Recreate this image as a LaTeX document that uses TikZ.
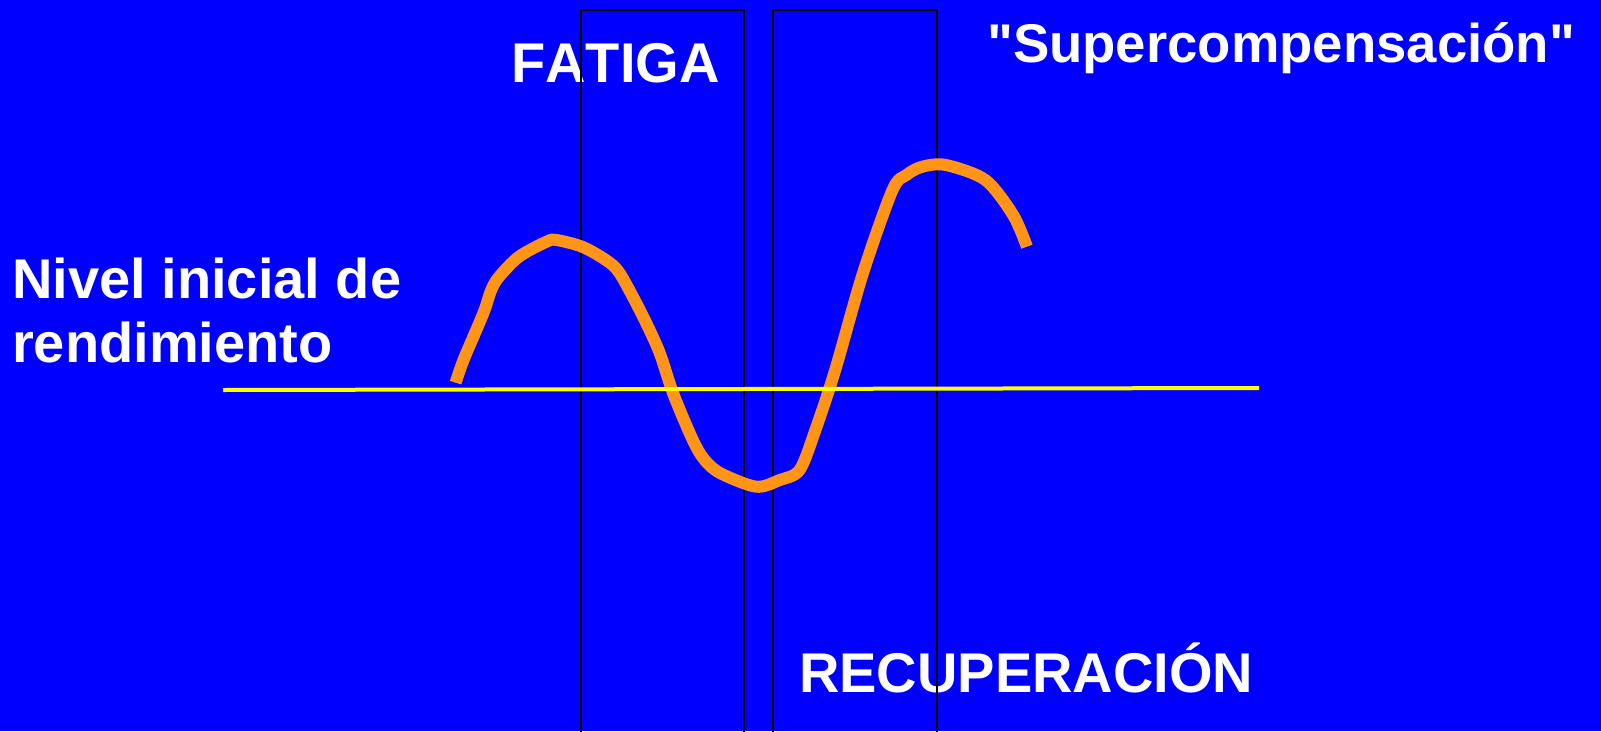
\documentclass[tikz,border=0pt]{standalone}
\usepackage{fontspec}
\setmainfont{Liberation Sans}[Ligatures=TeXOff, Kerning=Off]
\usetikzlibrary{positioning}
\definecolor{fondo}{RGB}{0,0,255}
\definecolor{naranja}{RGB}{255,148,22}
\definecolor{amarillo}{RGB}{255,255,0}

\begin{document}
\begin{tikzpicture}[x=1pt, y=-1pt,
  rotulo/.style={text=white, font=\bfseries\fontsize{56}{64}\selectfont,
                 inner sep=0pt, anchor=base west},
  panel/.style={draw=black, line width=1.4pt},
  curva/.style={draw=naranja, line width=12pt, line join=round},
  nivel/.style={draw=amarillo, line width=4pt}
]
  % Fondo y marco
  \useasboundingbox (0,0) rectangle (1601,731);
  \fill[fondo] (0,0) rectangle (1601,731);
  \clip (0,0) rectangle (1601,731);

  % Textos
  \node[rotulo] (fatiga) at (511,82) {FATIGA};
  \node[rotulo, font=\bfseries\fontsize{54.5}{64}\selectfont] (super) at (987,62)
    {"Supercompensación"};
  \node[rotulo] (nivel1) at (12,298) {Nivel inicial de};
  \node[rotulo] (nivel2) at (12,362) {rendimiento};
  \node[rotulo] (recup) at (799,692) {RECUPERACIÓN};

  % Paneles de fatiga y recuperación
  \draw[panel] (581,10) rectangle (744,745);
  \draw[panel] (773,10) rectangle (937,745);

  % Curva de rendimiento
  \draw[curva] plot[smooth, tension=0.5] coordinates {
    (455.6,382.7) (463.5,360) (483.3,313.3) (491.2,290) (499.1,276.7)
    (518.9,256.7) (546.5,241.7) (556.4,240) (582.1,246.7) (605.8,260)
    (619.7,273.3) (641.4,313.3) (659.2,351.7) (673.1,393.3) (692.8,440)
    (704.7,460) (720.5,473.3) (756.1,486.7) (779.8,480) (799.6,470)
    (815.4,430) (835.2,370) (862.9,273.3) (892.5,190) (906.4,175)
    (922.2,166.7) (945.9,165) (985.4,180) (1013.1,215) (1026.9,246.7)};

  % Nivel inicial
  \coordinate (ini) at (223,390);
  \coordinate (fin) at (1259,388);
  \draw[nivel] (ini) -- (fin);
\end{tikzpicture}
\end{document}
